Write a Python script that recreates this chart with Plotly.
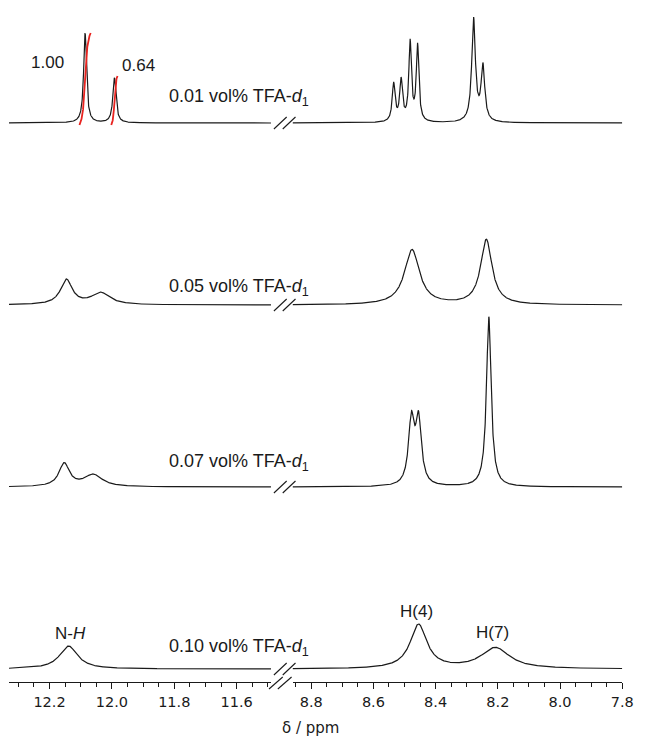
import numpy as np
import plotly.graph_objects as go

# ---------------- data ----------------
conc_labels = ["0.01", "0.05", "0.07", "0.10"]

# peak centres (ppm), heights (arbitrary units) and widths (FWHM, ppm)
s001_ppm = [12.086, 11.992, 8.535, 8.511, 8.482, 8.458, 8.278, 8.248]
s001_height = [90, 45, 38, 41, 79, 76, 103, 55]
s001_fwhm = [0.011, 0.012, 0.011, 0.011, 0.010, 0.010, 0.014, 0.014]

s005_ppm = [12.146, 12.036, 8.476, 8.237]
s005_height = [25, 12, 55, 65]
s005_fwhm = [0.045, 0.07, 0.058, 0.044]

s007_ppm = [12.153, 12.06, 8.478, 8.455, 8.229]
s007_height = [23, 12, 64, 64, 170]
s007_fwhm = [0.04, 0.07, 0.022, 0.022, 0.018]

s010_ppm = [12.139, 8.455, 8.208]
s010_height = [23, 44, 21]
s010_fwhm = [0.07, 0.065, 0.11]

integral_ppm = [12.086, 11.992]
integral_height = [92, 49]
integral_span = [0.018, 0.010]
integral_labels = ["1.00", "0.64"]

peak_labels = ["N-<i>H</i>", "H(4)", "H(7)"]

left_ticks = [12.2, 12.0, 11.8, 11.6]
right_ticks = [8.8, 8.6, 8.4, 8.2, 8.0, 7.8]

# ---------------- layout constants ----------------
PAGE_W, PAGE_H = 647, 737
BODY = 8                                # default page margin around the plot div
W, H = PAGE_W - BODY, PAGE_H - BODY
AXIS_PX = 682                           # page pixel row of the x axis line
PLOT_H = AXIS_PX - BODY                 # plot area height in figure pixels
offsets = [559, 377, 195, 13]           # baseline of each stacked spectrum
left_range = [12.33, 11.49]
right_range = [8.86, 7.80]


def px(xp):
    return (xp - BODY) / W


def py(yp):
    return (AXIS_PX - yp) / PLOT_H


left_dom = [px(9), px(276)]
right_dom = [px(298), px(634)]

spectra = [
    (s001_ppm, s001_height, s001_fwhm),
    (s005_ppm, s005_height, s005_fwhm),
    (s007_ppm, s007_height, s007_fwhm),
    (s010_ppm, s010_height, s010_fwhm),
]


def spectrum(x, ppm, height, fwhm):
    y = np.zeros_like(x)
    for p, h, w in zip(ppm, height, fwhm):
        hw = w / 2
        y += h / (1 + ((x - p) / hw) ** 2)
    return y


xl = np.linspace(left_range[0], left_range[1], 1600)
xr = np.linspace(right_range[0], right_range[1], 2000)

fig = go.Figure()
line_style = dict(color="#1a1a1a", width=1.2)

for (ppm, height, fwhm), off in zip(spectra, offsets):
    fig.add_trace(go.Scatter(x=xl, y=spectrum(xl, ppm, height, fwhm) + off,
                             mode="lines", line=line_style, xaxis="x", yaxis="y",
                             hoverinfo="skip", showlegend=False))
    fig.add_trace(go.Scatter(x=xr, y=spectrum(xr, ppm, height, fwhm) + off,
                             mode="lines", line=line_style, xaxis="x2", yaxis="y",
                             hoverinfo="skip", showlegend=False))

# integral curves (red)
for p, h, s in zip(integral_ppm, integral_height, integral_span):
    xi = np.linspace(p + s, p - s, 200)
    hw = s / 3
    a = np.arctan(s / hw)
    frac = (np.arctan((p - xi) / hw) + a) / (2 * a)
    fig.add_trace(go.Scatter(x=xi, y=offsets[0] - 2 + h * frac, mode="lines",
                             line=dict(color="#e8231f", width=1.8),
                             xaxis="x", yaxis="y", hoverinfo="skip", showlegend=False))

annotations = []
txt_font = dict(family="Liberation Sans, Arial, sans-serif", size=17, color="#1a1a1a")
conc_font = dict(family="Liberation Sans, Arial, sans-serif", size=18, color="#1a1a1a")

# integral value labels
annotations.append(dict(x=12.205, y=AXIS_PX - 62, xref="x", yref="y", text=integral_labels[0],
                        showarrow=False, font=txt_font, xanchor="center", yanchor="middle"))
annotations.append(dict(x=11.914, y=AXIS_PX - 65, xref="x", yref="y", text=integral_labels[1],
                        showarrow=False, font=txt_font, xanchor="center", yanchor="middle"))

# concentration labels
label_y = [98, 287, 463, 647]
for c, ly in zip(conc_labels, label_y):
    annotations.append(dict(x=px(243), y=py(ly), xref="paper", yref="paper",
                            text=f"{c} vol% TFA-<i>d</i><sub>1</sub>", showarrow=False,
                            font=conc_font, xanchor="center", yanchor="middle"))

# peak assignment labels (bottom spectrum)
annotations.append(dict(x=12.133, y=AXIS_PX - 633, xref="x", yref="y", text=peak_labels[0],
                        showarrow=False, font=txt_font, xanchor="center", yanchor="middle"))
annotations.append(dict(x=8.461, y=AXIS_PX - 611, xref="x2", yref="y", text=peak_labels[1],
                        showarrow=False, font=txt_font, xanchor="center", yanchor="middle"))
annotations.append(dict(x=8.218, y=AXIS_PX - 632, xref="x2", yref="y", text=peak_labels[2],
                        showarrow=False, font=txt_font, xanchor="center", yanchor="middle"))

# axis title
annotations.append(dict(x=px(316), y=py(728), xref="paper", yref="paper",
                        text="δ / ppm", showarrow=False,
                        font=dict(family="DejaVu Sans, Verdana, sans-serif", size=15, color="#1a1a1a"),
                        xanchor="center", yanchor="middle"))

# break marks
shapes = []
brk = dict(color="#1a1a1a", width=1.1)
for off in offsets:
    for x0 in (279, 288):
        shapes.append(dict(type="line", xref="paper", yref="y",
                           x0=px(x0), x1=px(x0 + 13), y0=off - 6, y1=off + 6, line=brk))
for x0 in (274, 283):
    shapes.append(dict(type="line", xref="paper", yref="paper",
                       x0=px(x0), x1=px(x0 + 14), y0=py(AXIS_PX + 7), y1=py(AXIS_PX - 5), line=brk))

axis_common = dict(
    showgrid=False, zeroline=False, showline=True, linecolor="#1a1a1a", linewidth=1.2,
    ticks="outside", ticklen=6, tickwidth=1.1, tickcolor="#1a1a1a",
    tickfont=dict(family="DejaVu Sans, Verdana, sans-serif", size=14.5, color="#1a1a1a"),
    minor=dict(tickmode="linear", tick0=0, dtick=0.05, ticks="outside", ticklen=4,
               tickwidth=1, tickcolor="#1a1a1a"),
    anchor="y", fixedrange=True,
)

fig.update_layout(
    width=W, height=H,
    margin=dict(l=0, r=0, t=0, b=H - PLOT_H),
    paper_bgcolor="white", plot_bgcolor="white",
    xaxis=dict(domain=left_dom, range=left_range, tickmode="array", tickvals=left_ticks,
               ticktext=[f"{v:.1f}" for v in left_ticks], **axis_common),
    xaxis2=dict(domain=right_dom, range=right_range, tickmode="array", tickvals=right_ticks,
                ticktext=[f"{v:.1f}" for v in right_ticks], **axis_common),
    yaxis=dict(range=[AXIS_PX - PLOT_H - BODY + BODY, AXIS_PX - BODY + 0] if False else [0, PLOT_H],
               visible=False, fixedrange=True),
    annotations=annotations, shapes=shapes, showlegend=False,
)

fig.write_html("out.html")
